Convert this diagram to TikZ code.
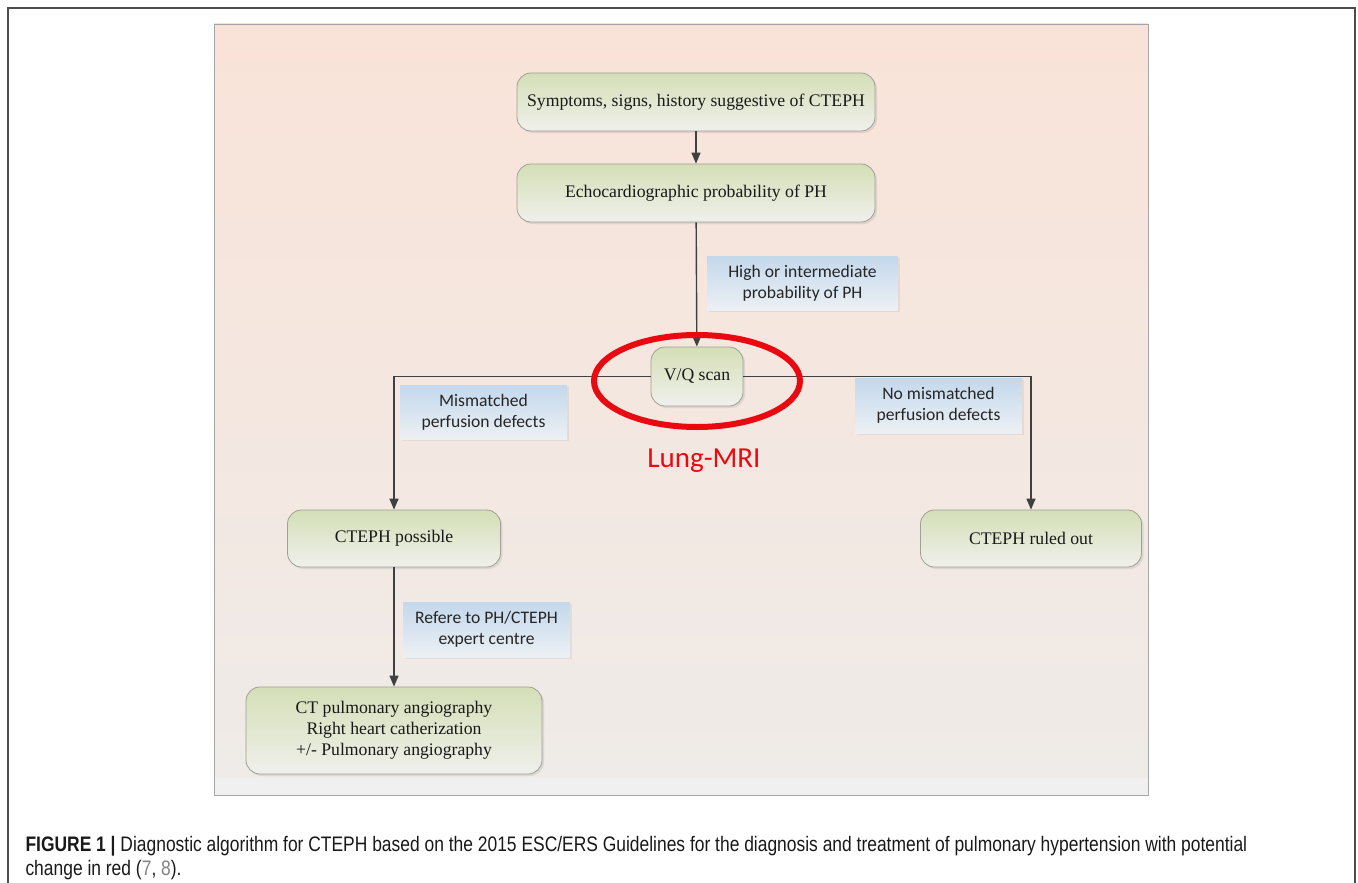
\documentclass[tikz,border=0pt]{standalone}
\usepackage{fontspec}
\setmainfont{Liberation Serif}
\newfontfamily\labelfont{Carlito}
\newfontfamily\capfont[FakeStretch=0.83]{Liberation Sans}
\usetikzlibrary{arrows.meta,shapes.geometric,shadows}

\definecolor{stagetop}{RGB}{212,223,182}
\definecolor{stagebot}{RGB}{240,240,236}
\definecolor{stageline}{RGB}{160,160,150}
\definecolor{condtop}{RGB}{196,216,236}
\definecolor{condbot}{RGB}{236,240,244}
\definecolor{flowline}{RGB}{64,64,64}
\definecolor{paneltop}{RGB}{249,227,216}
\definecolor{panelmid}{RGB}{243,232,224}
\definecolor{panelbot}{RGB}{239,235,232}
\definecolor{ringred}{RGB}{232,10,16}
\definecolor{refgray}{RGB}{130,130,130}

\begin{document}
\begin{tikzpicture}[x=1pt,y=-1pt,
    stage/.style={shape=rectangle, rounded corners=14pt, draw=stageline, line width=0.8pt, top color=stagetop, bottom color=stagebot, drop shadow={opacity=0.18, shadow xshift=2pt, shadow yshift=-2pt}, inner sep=0pt, align=center, text=black!90, font=\fontsize{17.7}{21}\selectfont},
    cond/.style={shape=rectangle, top color=condtop, bottom color=condbot, drop shadow={opacity=0.12, shadow xshift=2pt, shadow yshift=-2pt}, inner sep=0pt, align=center, text=black!85, font=\labelfont\fontsize{17.6}{21}\selectfont},
    flow/.style={draw=flowline, line width=1.4pt, -{Triangle[length=11pt,width=9pt]}},
  ]
    \useasboundingbox (0,0) rectangle (1358,883);

    % frame and panel
    \draw[black!70, line width=1.6pt] (8,883) -- (8,8) -- (1355,8) -- (1355,883);
    \fill[top color=paneltop, middle color=panelmid, bottom color=panelbot] (214,24) rectangle (1148,778);
    \fill[black!6] (214,778) rectangle (1148,795);
    \draw[black!35, line width=0.8pt] (214,24) rectangle (1148,795);

    \node[stage, minimum width=358, minimum height=58] (sym) at (696,102) {Symptoms, signs, history suggestive of CTEPH};
    \node[stage, minimum width=358, minimum height=58] (echo) at (696,193) {Echocardiographic probability of PH};
    \node[stage, minimum width=92, minimum height=59] (vq) at (697,376.5) {V/Q scan};
    \node[stage, minimum width=213, minimum height=57] (poss) at (394,538.5) {CTEPH possible};
    \node[stage, minimum width=221, minimum height=57] (ruled) at (1031,538.5) {CTEPH ruled out};
    \node[stage, minimum width=296, minimum height=87] (ct) at (394,730.5) {CT pulmonary angiography\\Right heart catherization\\+/- Pulmonary angiography};

    \node[cond, minimum width=191, minimum height=54] (high) at (802.5,283) {High or intermediate\\probability of PH};
    \node[cond, minimum width=167, minimum height=54] (mism) at (483.5,412) {Mismatched\\perfusion defects};
    \node[cond, minimum width=167, minimum height=55] (nomism) at (938.5,405.5) {No mismatched\\perfusion defects};
    \node[cond, minimum width=167, minimum height=55] (refer) at (486.5,629.5) {Refere to PH/CTEPH\\expert centre};

    \draw[flow] (sym) -- (echo);
    \draw[flow] (echo) -- (vq);
    \draw[flow] (vq.west) -| (poss.north);
    \draw[flow] (vq.east) -| (ruled.north);
    \draw[flow] (poss) -- (ct);

    % proposed change
    \node[shape=ellipse, draw=ringred, line width=6pt, minimum width=206, minimum height=92] (ring) at (697,381) {};
    \node[text=ringred, font=\labelfont\fontsize{29}{34}\selectfont] (mri) at (704,461) {Lung-MRI};

    \node[anchor=north west, align=left, text=black!90, font=\capfont\fontsize{21}{24}\selectfont] (cap) at (22,833)
      {\textbf{FIGURE 1 |} Diagnostic algorithm for CTEPH based on the 2015 ESC/ERS Guidelines for the diagnosis and treatment of pulmonary hypertension with potential\\change in red ({\color{refgray}7}, {\color{refgray}8}).};
\end{tikzpicture}
\end{document}
